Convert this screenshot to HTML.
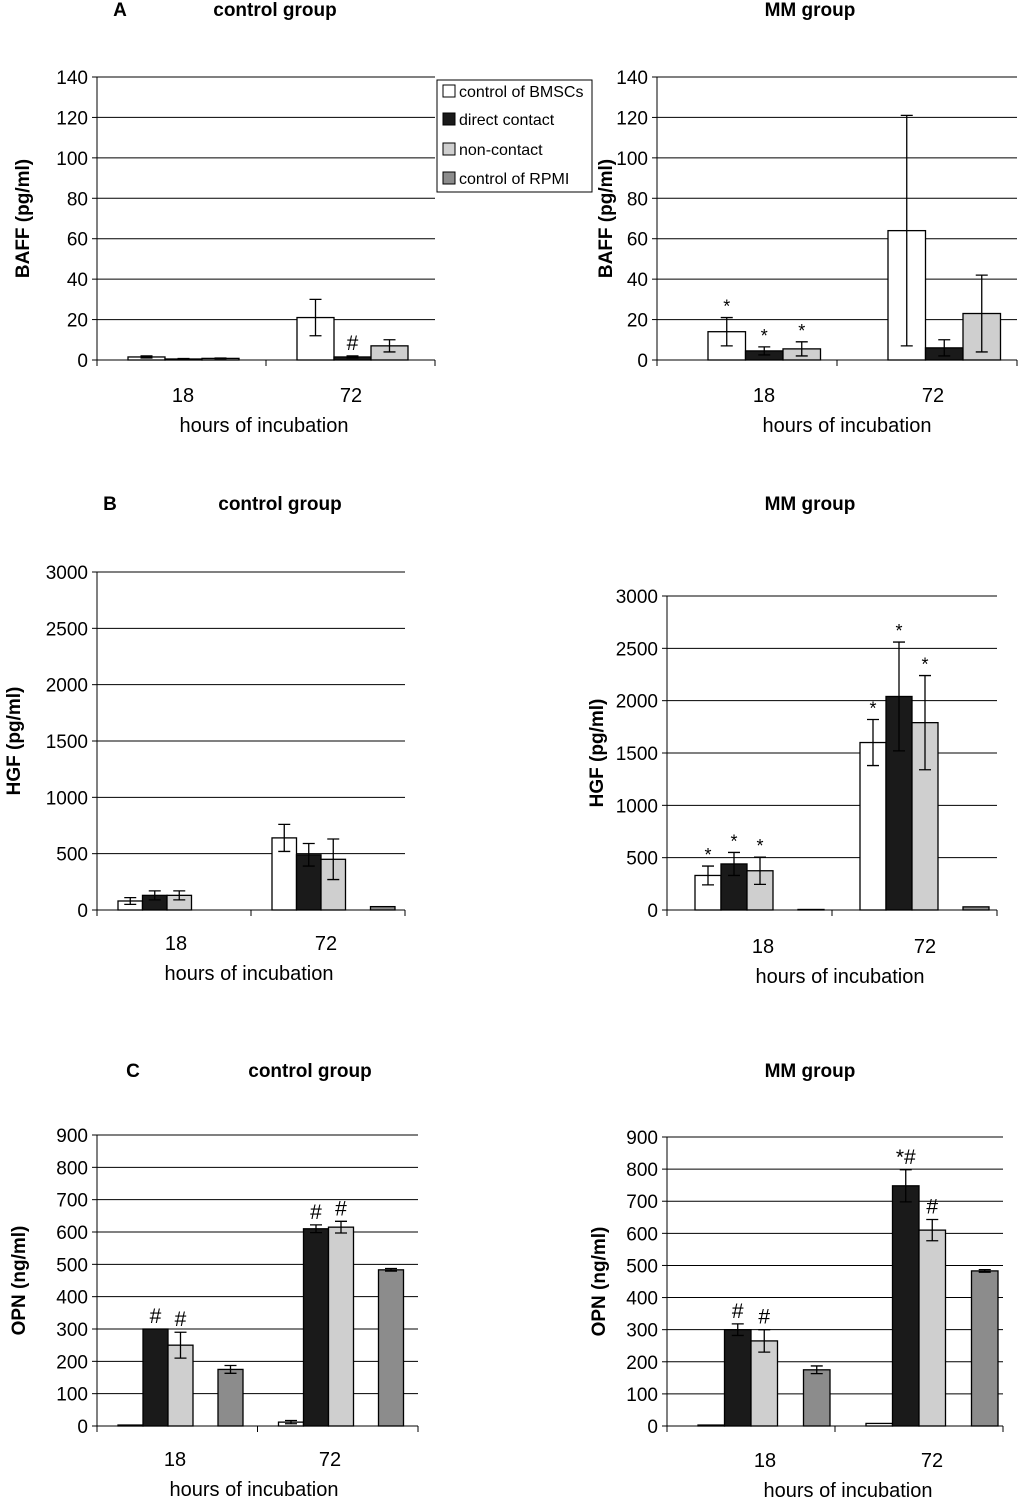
<!DOCTYPE html>
<html><head><meta charset="utf-8"><style>
body{margin:0;background:#fff;}
svg{display:block;font-family:"Liberation Sans",sans-serif;}
</style></head><body>
<svg id="fig" width="1020" height="1502" viewBox="0 0 1020 1502"></svg>
<script>
const categories = ["18","72"];
const seriesNames = ["control of BMSCs","direct contact","non-contact","control of RPMI"];
const seriesFills = ["#ffffff","#1a1a1a","#cfcfcf","#8c8c8c"];
// BAFF control group
const bafCtrl18 = [1.5,0.5,0.8,0];
const bafCtrl72 = [21,1.5,7,0];
const bafCtrlErr18 = [0.5,0.2,0.2,0];
const bafCtrlErr72 = [9,0.5,3,0];
// BAFF MM group
const bafMM18 = [14,4.5,5.5,0];
const bafMM72 = [64,6,23,0];
const bafMMErr18 = [7,2,3.5,0];
const bafMMErr72 = [57,4,19,0];
// HGF control group
const hgfCtrl18 = [80,130,130,0];
const hgfCtrl72 = [640,490,450,30];
const hgfCtrlErr18 = [30,40,40,0];
const hgfCtrlErr72 = [120,100,180,0];
// HGF MM group
const hgfMM18 = [330,440,375,5];
const hgfMM72 = [1600,2040,1790,30];
const hgfMMErr18 = [90,110,130,0];
const hgfMMErr72 = [220,520,450,0];
// OPN control group
const opnCtrl18 = [3,300,250,175];
const opnCtrl72 = [12,610,615,483];
const opnCtrlErr18 = [0,0,40,12];
const opnCtrlErr72 = [5,12,18,4];
// OPN MM group
const opnMM18 = [3,300,265,175];
const opnMM72 = [8,748,610,483];
const opnMMErr18 = [0,18,35,12];
const opnMMErr72 = [0,50,33,4];
// annotations
const bafMMMarks18 = ["*","*","*",""];
const bafCtrlMarks72 = ["","#","",""];
const hgfMMMarks18 = ["*","*","*",""];
const hgfMMMarks72 = ["*","*","*",""];
const opnCtrlMarks18 = ["","#","#",""];
const opnCtrlMarks72 = ["","#","#",""];
const opnMMMarks18 = ["","#","#",""];
const opnMMMarks72 = ["","*#","#",""];

const NS="http://www.w3.org/2000/svg";
const svg=document.getElementById('fig');
function mk(tag,attrs,parent,text){const e=document.createElementNS(NS,tag);for(const k in attrs)e.setAttribute(k,attrs[k]);if(text!==undefined)e.textContent=text;(parent||svg).appendChild(e);return e;}

function panel(p){
  const g=mk('g',{});
  
  
  const x1=p.x0+p.group*2;
  const yS=v=>p.yBot-(v/p.max)*(p.yBot-p.yTop);
  for(let v=0;v<=p.max;v+=p.step){
    const y=yS(v);
    if(v>0){const l=mk('line',{x1:p.x0,x2:x1,y1:y,y2:y,stroke:'#000','stroke-width':1},g);
      }
    mk('line',{x1:p.x0-5,x2:p.x0,y1:y,y2:y,stroke:'#000'},g);
    const t=mk('text',{x:p.x0-9,y:y+7,'text-anchor':'end','font-size':19},g,String(v));
    
  }
  mk('line',{x1:p.x0,x2:p.x0,y1:p.yTop,y2:p.yBot,stroke:'#000'},g);
  mk('line',{x1:p.x0,x2:x1,y1:p.yBot,y2:p.yBot,stroke:'#000'},g);
  for(let i=0;i<=2;i++){const x=p.x0+i*p.group;mk('line',{x1:x,x2:x,y1:p.yBot,y2:p.yBot+6,stroke:'#000'},g);}
  categories.forEach((c,ci)=>{
    const vals=p.vals[ci],errs=p.errs[ci],marks=p.marks[ci];
    const gx=p.x0+ci*p.group+p.off;
    vals.forEach((v,si)=>{
      const bx=gx+si*p.bw+(si===3?p.gap:0);
      if(v>0){
        const y=yS(v);
        const r=mk('rect',{x:bx,y:y,width:p.bw,height:p.yBot-y,fill:seriesFills[si],stroke:'#000','stroke-width':1.3},g);
        
      }
      const e=errs[si];const cx=bx+p.bw/2;
      if(e>0){
        const eb=mk('path',{d:`M${cx},${yS(v+e)}V${yS(Math.max(0,v-e))}M${cx-6},${yS(v+e)}h12M${cx-6},${yS(Math.max(0,v-e))}h12`,stroke:'#000','stroke-width':1.3,fill:'none'},g);
        
      }
      if(marks&&marks[si]){
        const t=mk('text',{x:cx,y:yS(v+e)-(marks[si]==='*'?5:6),'text-anchor':'middle','font-size':marks[si]==='*'?18:21},g,marks[si]);
        
      }
    });
    const t=mk('text',{x:p.labX[ci],y:p.labY,'text-anchor':'middle','font-size':20},g,c);
    
  });
  const xt=mk('text',{x:p.titleLabX,y:p.labY+30,'text-anchor':'middle','font-size':20},g,'hours of incubation');
  
  const yt=mk('text',{x:0,y:0,transform:`translate(${p.yLabX},${(p.yTop+p.yBot)/2}) rotate(-90)`,'text-anchor':'middle','font-size':19,'font-weight':'bold'},g,p.ylabel);
  
  const tt=mk('text',{x:p.titleX,y:p.titleY,'text-anchor':'middle','font-size':19,'font-weight':'bold'},g,p.title);
  
  if(p.letter){const lt=mk('text',{x:p.letterX,y:p.titleY,'text-anchor':'middle','font-size':19,'font-weight':'bold'},g,p.letter);
    }
}

panel({name:'baff-control-chart',x0:97,group:169,off:31,bw:37,gap:0,yTop:77,yBot:360,max:140,step:20,
  vals:[bafCtrl18,bafCtrl72],errs:[bafCtrlErr18,bafCtrlErr72],marks:[null,bafCtrlMarks72],labY:402,labX:[183,351],titleLabX:264,yLabX:29,ylabel:'BAFF (pg/ml)',
  title:'control group',titleX:275,titleY:16,letter:'A',letterX:120});
panel({name:'baff-mm-chart',x0:657,group:180,off:51,bw:37.5,gap:0,yTop:77,yBot:360,max:140,step:20,
  vals:[bafMM18,bafMM72],errs:[bafMMErr18,bafMMErr72],marks:[bafMMMarks18,null],labY:402,labX:[764,933],titleLabX:847,yLabX:612,ylabel:'BAFF (pg/ml)',
  title:'MM group',titleX:810,titleY:16});
panel({name:'hgf-control-chart',x0:97,group:154,off:21,bw:24.5,gap:25,yTop:572,yBot:910,max:3000,step:500,
  vals:[hgfCtrl18,hgfCtrl72],errs:[hgfCtrlErr18,hgfCtrlErr72],marks:[null,null],labY:950,labX:[176,326],titleLabX:249,yLabX:20,ylabel:'HGF (pg/ml)',
  title:'control group',titleX:280,titleY:510,letter:'B',letterX:110});
panel({name:'hgf-mm-chart',x0:667,group:165,off:28,bw:26,gap:25,yTop:596,yBot:910,max:3000,step:500,
  vals:[hgfMM18,hgfMM72],errs:[hgfMMErr18,hgfMMErr72],marks:[hgfMMMarks18,hgfMMMarks72],labY:953,labX:[763,925],titleLabX:840,yLabX:603,ylabel:'HGF (pg/ml)',
  title:'MM group',titleX:810,titleY:510});
panel({name:'opn-control-chart',x0:97,group:160.5,off:21,bw:25,gap:25,yTop:1135,yBot:1426,max:900,step:100,
  vals:[opnCtrl18,opnCtrl72],errs:[opnCtrlErr18,opnCtrlErr72],marks:[opnCtrlMarks18,opnCtrlMarks72],labY:1466,labX:[175,330],titleLabX:254,yLabX:25,ylabel:'OPN (ng/ml)',
  title:'control group',titleX:310,titleY:1077,letter:'C',letterX:133});
panel({name:'opn-mm-chart',x0:667,group:168,off:31,bw:26.5,gap:26,yTop:1137,yBot:1426,max:900,step:100,
  vals:[opnMM18,opnMM72],errs:[opnMMErr18,opnMMErr72],marks:[opnMMMarks18,opnMMMarks72],labY:1467,labX:[765,932],titleLabX:848,yLabX:605,ylabel:'OPN (ng/ml)',
  title:'MM group',titleX:810,titleY:1077});

// legend
const lg=mk('g',{});


mk('rect',{x:437,y:80,width:155,height:112,fill:'#fff',stroke:'#000'},lg);
const legY=[91,119,149,178];
seriesNames.forEach((n,i)=>{
  const e=mk('g',{},lg);
  
  
  mk('rect',{x:443,y:legY[i]-6,width:12,height:12,fill:seriesFills[i],stroke:'#000'},e);
  mk('text',{x:459,y:legY[i]+6,'font-size':16},e,n);
});
</script>
</body></html>
